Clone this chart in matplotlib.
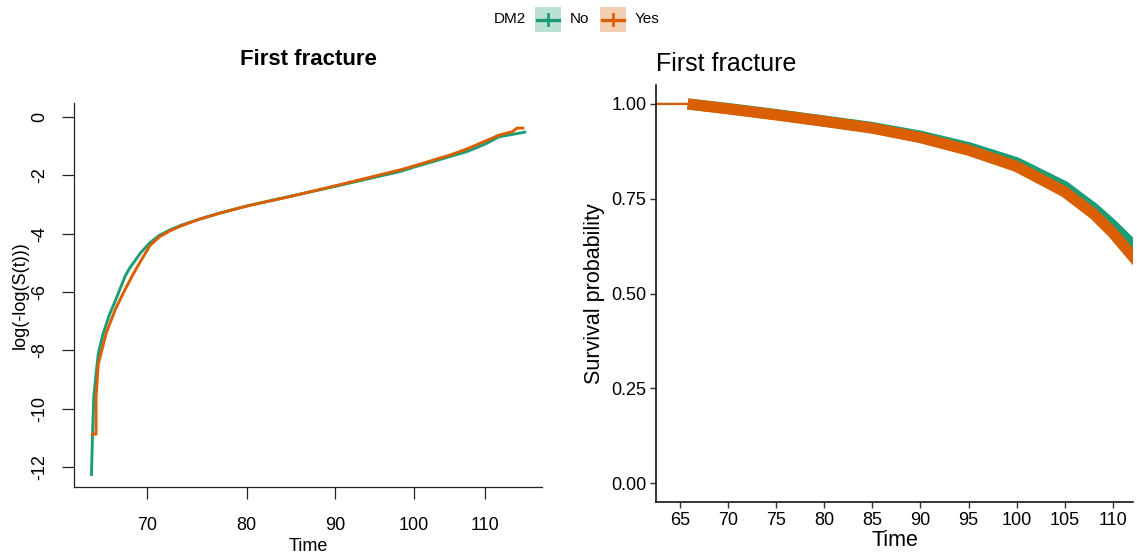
import matplotlib
matplotlib.use('Agg')
import numpy as np
import matplotlib.pyplot as plt
from matplotlib.patches import Rectangle
from matplotlib.lines import Line2D

plt.rcParams['font.family'] = ['Liberation Sans', 'DejaVu Sans']

W, H = 1137, 558
GREEN = '#1B9E77'
ORANGE = '#D95F02'

groups = ['No', 'Yes']
legend_title = 'DM2'

# left panel: log(-log(S(t))) against time (log x axis)
t_ll_no = [65.0, 65.1, 65.2, 65.4, 65.6, 66.0, 66.6, 67.0, 67.5, 68.0, 68.4, 69.0, 69.4,
           70.3, 71.2, 72.2, 73.2, 75.1, 77.1, 80.0, 83.7, 90.0, 95.0, 98.1, 100.0,
           103.0, 105.0, 107.3, 110.0, 112.1, 114.0, 116.0]
ll_no = [-12.25, -10.8, -9.6, -8.8, -8.1, -7.45, -6.75, -6.4, -5.92, -5.45, -5.18, -4.87, -4.66,
         -4.3, -4.05, -3.87, -3.72, -3.5, -3.3, -3.05, -2.79, -2.38, -2.06, -1.875, -1.72,
         -1.5, -1.35, -1.19, -0.93, -0.675, -0.6, -0.52]
t_ll_yes = [65.07, 65.4, 65.4, 65.6, 66.3, 67.1, 67.8, 68.6, 69.4, 70.3, 71.2, 72.2, 73.2,
            75.1, 77.1, 80.0, 85.0, 90.0, 95.0, 98.1, 100.0, 103.0, 105.0, 107.3, 110.0,
            112.1, 114.1, 114.8, 115.7]
ll_yes = [-10.87, -10.87, -9.6, -8.45, -7.4, -6.6, -6.05, -5.47, -4.95, -4.4, -4.1, -3.9, -3.74,
          -3.5, -3.3, -3.05, -2.71, -2.36, -2.02, -1.82, -1.68, -1.45, -1.30, -1.10, -0.83,
          -0.62, -0.50, -0.38, -0.38]

# right panel: survival probability
t_surv = [60.0, 65.8, 70, 75, 80, 85, 90, 95, 100, 105, 108, 110, 112, 114]
surv_no = [1.0, 1.0, 0.988, 0.972, 0.955, 0.938, 0.915, 0.885, 0.845, 0.782, 0.725, 0.680, 0.630, 0.57]
surv_yes = [1.0, 1.0, 0.987, 0.971, 0.954, 0.936, 0.911, 0.878, 0.835, 0.768, 0.710, 0.660, 0.600, 0.54]
censor_start = 65.8  # dense censoring marks start here

x_ticks_left = [70, 80, 90, 100, 110]
y_ticks_left = [0, -2, -4, -6, -8, -10, -12]
x_ticks_right = [65, 70, 75, 80, 85, 90, 95, 100, 105, 110]
y_ticks_right = [0.0, 0.25, 0.5, 0.75, 1.0]


def frac(x0, y0, x1, y1):
    """ pixel box (top-left origin) to figure fraction rect """
    return [x0 / W, 1 - y1 / H, (x1 - x0) / W, (y1 - y0) / H]


fig = plt.figure(figsize=(W / 100, H / 100), dpi=100)

# ---- left: cloglog plot, base R look
ax1 = fig.add_axes(frac(74, 103, 542, 487))
ax1.plot(t_ll_no, ll_no, color=GREEN, lw=2.1)
ax1.plot(t_ll_yes, ll_yes, color=ORANGE, lw=2.1)
ax1.set_xscale('log')
ax1.set_xlim(63.5, 118.7)
ax1.set_ylim(-12.68, 0.48)
ax1.xaxis.set_minor_locator(matplotlib.ticker.NullLocator())
ax1.set_xticks(x_ticks_left)
ax1.set_xticklabels([str(v) for v in x_ticks_left])
ax1.set_yticks(y_ticks_left)
ax1.set_yticklabels([str(v) for v in y_ticks_left], rotation=90, va='center')
for s in ['top', 'right']:
    ax1.spines[s].set_visible(False)
for s in ['left', 'bottom']:
    ax1.spines[s].set_color('#222222')
    ax1.spines[s].set_linewidth(0.9)
ax1.tick_params(axis='both', direction='out', length=8.5, width=0.9, color='#222222',
                labelsize=13)
ax1.tick_params(axis='x', pad=13)
ax1.tick_params(axis='y', pad=10)
ax1.set_xlabel('Time', fontsize=13, labelpad=3)
ax1.set_ylabel('log(-log(S(t)))', fontsize=13, labelpad=2)
ax1.set_title('First fracture', fontsize=16, fontweight='bold', pad=27)

# ---- right: survival curves, ggplot classic look
ax2 = fig.add_axes(frac(656, 85, 1133, 502))
t_arr = np.array(t_surv)
band = t_arr >= censor_start
for vals, col in [(surv_no, GREEN), (surv_yes, ORANGE)]:
    v = np.array(vals)
    ax2.plot(t_arr, v, color=col, lw=1.6)
    ax2.plot(t_arr[band], v[band], color=col, lw=8, solid_capstyle='butt')
ax2.set_xlim(62.5, 112.1)
ax2.set_ylim(-0.05, 1.05)
ax2.set_xticks(x_ticks_right)
ax2.set_yticks(y_ticks_right)
ax2.set_yticklabels(['%.2f' % v for v in y_ticks_right])
for s in ['top', 'right']:
    ax2.spines[s].set_visible(False)
for s in ['left', 'bottom']:
    ax2.spines[s].set_color('black')
    ax2.spines[s].set_linewidth(1.1)
ax2.tick_params(axis='both', direction='out', length=4, width=1.0, color='#333333',
                labelsize=13, pad=3)
ax2.set_xlabel('Time', fontsize=15.5, labelpad=1)
ax2.set_ylabel('Survival probability', fontsize=15.5, labelpad=4)
ax2.set_title('First fracture', fontsize=18, loc='left', pad=10)

# ---- legend on top
fig.text(494 / W, 1 - 19 / H, legend_title, fontsize=11, va='center', ha='left')
key_x = [535, 600]
for name, col, kx in zip(groups, [GREEN, ORANGE], key_x):
    fig.add_artist(Rectangle((kx / W, 1 - 32 / H), 26 / W, 25 / H, transform=fig.transFigure,
                             facecolor=col, alpha=0.3, edgecolor='none'))
    fig.add_artist(Line2D([(kx + 2) / W, (kx + 24) / W], [1 - 19.5 / H, 1 - 19.5 / H],
                          transform=fig.transFigure, color=col, lw=2.4))
    fig.add_artist(Line2D([(kx + 13) / W, (kx + 13) / W], [1 - 14 / H, 1 - 25 / H],
                          transform=fig.transFigure, color=col, lw=2.0))
    fig.text((kx + 35) / W, 1 - 19 / H, name, fontsize=11, va='center', ha='left')

fig.savefig('out.png', dpi=100)
